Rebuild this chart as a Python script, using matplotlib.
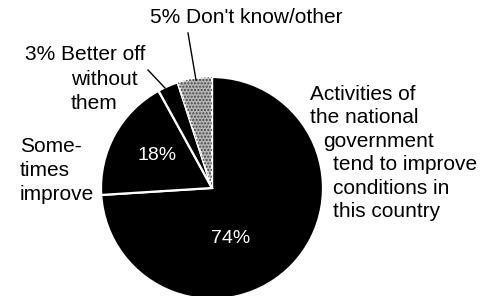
import matplotlib.pyplot as plt
import matplotlib.patches as mpatches

plt.rcParams['font.family'] = ['Liberation Sans', 'DejaVu Sans']

# answer shares, clockwise from 12 o'clock
shares = [74, 18, 3, 5]
colors = ['black', 'black', 'black', '#b4b4b4']
pct_labels = ['74%', '18%']
main_label = ['Activities of', 'the national', 'government', 'tend to improve',
              'conditions in', 'this country']
some_label = ['Some-', 'times', 'improve']
better_label = ['3% Better off', 'without', 'them']
other_label = '5% Don\'t know/other'

W, H = 497, 296


def Y(y):
    # picture coords (top-down) -> axes coords (bottom-up)
    return H - y


fig = plt.figure(figsize=(W / 100, H / 100), dpi=100)
ax = fig.add_axes([0, 0, 1, 1])

wedges, _ = ax.pie(shares, colors=colors, startangle=90, counterclock=False,
                   center=(212, Y(188)), radius=111,
                   explode=[0, 0.012, 0.02, 0.015],
                   wedgeprops=dict(edgecolor='white', linewidth=1.6))

# stipple on the don't know slice
w = wedges[3]
dots = mpatches.Wedge(w.center, w.r, w.theta1, w.theta2, facecolor='none',
                      edgecolor='#444444', linewidth=0, hatch='.....')
ax.add_patch(dots)

ax.set_xlim(0, W)
ax.set_ylim(0, H)
ax.set_aspect('equal')
ax.axis('off')

fs = 15
ax.text(231, Y(243), pct_labels[0], color='white', fontsize=14, ha='center', va='baseline')
ax.text(157, Y(160), pct_labels[1], color='white', fontsize=14, ha='center', va='baseline')

# right hand label, stepped in
indent = [310, 310, 323, 333, 333, 333]
for i, line in enumerate(main_label):
    ax.text(indent[i], Y(100 + i * 23.4), line, fontsize=fs, va='baseline')

for i, line in enumerate(some_label):
    ax.text(20, Y(152 + i * 24), line, fontsize=fs, va='baseline')

ax.text(25, Y(60), better_label[0], fontsize=fs, va='baseline')
ax.text(71, Y(85), better_label[1], fontsize=fs, va='baseline')
ax.text(71, Y(109), better_label[2], fontsize=fs, va='baseline')

ax.text(150, Y(23), other_label, fontsize=fs, va='baseline')

# leader lines
ax.plot([148, 165], [Y(70), Y(88)], color='black', lw=1)
ax.plot([188, 196], [Y(33), Y(80)], color='black', lw=1)

fig.savefig('out.png', dpi=100, facecolor='white')
